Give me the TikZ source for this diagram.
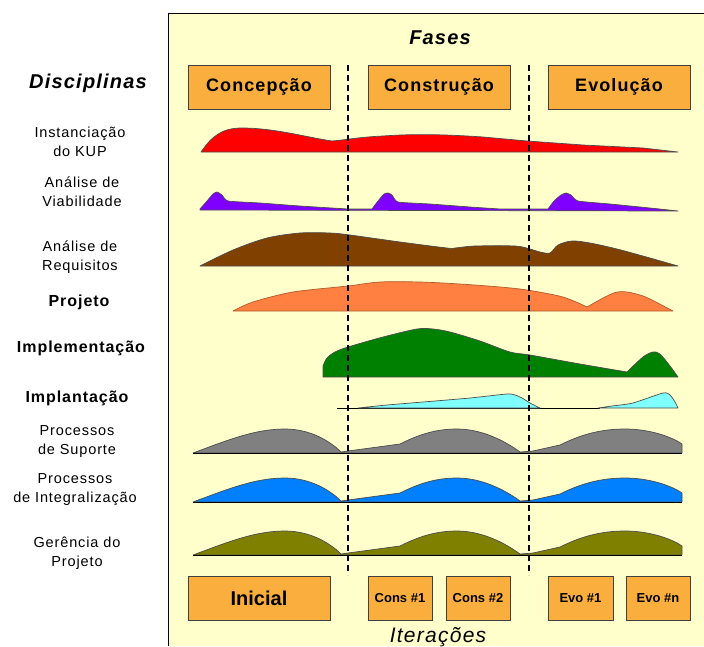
\documentclass[tikz,border=0pt]{standalone}
\usepackage{fontspec}
\setmainfont{Liberation Sans}[LetterSpace=6.0]
\newfontfamily\plainsans{Liberation Sans}
\definecolor{panel}{HTML}{FFFFCC}
\definecolor{boxorange}{HTML}{FAAE3D}
\definecolor{cred}{HTML}{FF0000}
\definecolor{cpurple}{HTML}{8000FF}
\definecolor{cbrown}{HTML}{804000}
\definecolor{corange}{HTML}{FF8040}
\definecolor{cgreen}{HTML}{008000}
\definecolor{ccyan}{HTML}{80FFFF}
\definecolor{cgray}{HTML}{808080}
\definecolor{cblue}{HTML}{0080FF}
\definecolor{colive}{HTML}{808000}
\tikzset{
  phasebox/.style={draw=black!75, line width=0.9pt, fill=boxorange, minimum width=142pt, minimum height=44pt, inner sep=0pt, font=\bfseries\fontsize{18}{20}\selectfont},
  iterbox/.style={draw=black!75, line width=0.9pt, fill=boxorange, minimum width=64pt, minimum height=44pt, inner sep=0pt, font=\plainsans\bfseries\fontsize{13}{15}\selectfont},
  disc/.style={align=center, inner sep=0pt, font=\fontsize{14.5}{19}\selectfont},
  discb/.style={align=center, inner sep=0pt, font=\bfseries\fontsize{16}{19}\selectfont},
  title/.style={inner sep=0pt, font=\bfseries\itshape\fontsize{20}{22}\selectfont},
  wave/.style={draw=black!70, line width=0.7pt, line join=round},
  phasesep/.style={line width=2.2pt, dash pattern=on 6pt off 4pt},
}
\begin{document}
\begin{tikzpicture}[x=1pt,y=-1pt]
\useasboundingbox (0,0) rectangle (704,646);
% panel
\fill[panel] (168,13) rectangle (704,646);
\draw[line width=0.8pt] (168,646) -- (168,13) -- (704,13);

% titles
\node[title] (fases) at (440,38) {Fases};
\node[title] (disciplinas) at (88,83) {Disciplinas};
\node[inner sep=0pt, font=\itshape\fontsize{21}{23}\selectfont] (iter) at (438,637) {Iterações};

% phase boxes
\node[phasebox] (concepcao) at (259,87) {Concepção};
\node[phasebox] (construcao) at (439,87) {Construção};
\node[phasebox] (evolucao) at (619,87) {Evolução};

% iteration boxes
\node[phasebox, font=\plainsans\bfseries\fontsize{20}{22}\selectfont] (inicial) at (259,598) {Inicial};
\node[iterbox] (cons1) at (400,598) {Cons \#1};
\node[iterbox] (cons2) at (478,598) {Cons \#2};
\node[iterbox, minimum width=65pt] (evo1) at (580.5,598) {Evo \#1};
\node[iterbox] (evon) at (658,598) {Evo \#n};

% discipline labels
\node[disc] (l1) at (80,141.5) {Instanciação\\do KUP};
\node[disc] (l2) at (82,192) {Análise de\\Viabilidade};
\node[disc] (l3) at (80,257.5) {Análise de\\Requisitos};
\node[discb] (l4) at (79,302) {Projeto};
\node[discb] (l5) at (81,348) {Implementação};
\node[discb] (l6) at (77,398) {Implantação};
\node[disc] (l7) at (77,442) {Processos\\de Suporte};
\node[disc] (l8) at (75,489.5) {Processos\\de Integralização};
\node[disc] (l9) at (77,553.5) {Gerência do\\Projeto};

% Instanciacao (red)
\filldraw[wave, fill=cred] (201,152) .. controls (212,136) and (222,128) .. (242,128)
  .. controls (275,128) and (310,138) .. (332,141)
  .. controls (345,140) and (360,137) .. (383,136)
  .. controls (410,134) and (440,134) .. (483,137)
  -- (527,141) -- (583,145) -- (643,148) -- (678,152) -- cycle;

% Viabilidade (purple)
\filldraw[wave, fill=cpurple] plot[smooth, tension=0.3] coordinates {(200,209) (207,201) (213,194) (217,192) (222,195) (228,201) (260,203) (300,206) (348,209)}
 -- (372,209) -- plot[smooth, tension=0.3] coordinates {(372,209) (378,201) (384,194) (388,193) (392,195) (398,202) (430,204) (470,207) (500,209)}
 -- (548,209) -- plot[smooth, tension=0.3] coordinates {(548,209) (554,201) (561,195) (566,193) (571,195) (578,201) (610,204) (650,208) (678,211)} -- (678,211) -- (200,210) -- cycle;

% Requisitos (brown)
\filldraw[wave, fill=cbrown] plot[smooth, tension=0.5] coordinates {(200,266) (233,250) (267,238) (300,233) (330,233) (350,235) (400,242) (447,248) (455,248) (475,246) (515,246) (530,249) (540,252) (550,253) (558,245) (572,241) (590,243) (617,249) (650,258) (678,266)} -- cycle;

% Projeto (orange)
\filldraw[draw=corange!70!black, line width=0.7pt, line join=round, fill=corange] plot[smooth, tension=0.5] coordinates {(233,311) (253,302) (293,292) (348,286) (380,282) (420,282) (460,284) (500,287) (527,290) (563,297) (587,307)}
 -- plot[smooth, tension=0.5] coordinates {(587,307) (605,297) (617,292) (627,292) (640,295) (650,299) (673,311)} -- cycle;

% Implementacao (green)
\filldraw[wave, fill=cgreen] (323,377) -- plot[smooth, tension=0.5] coordinates {(323,366) (327,358) (335,352) (348,347) (383,337) (417,329) (433,329) (450,332) (480,341) (510,352) (530,355) (580,364) (627,372)}
 -- plot[smooth, tension=0.5] coordinates {(627,372) (643,357) (653,352) (660,354) (670,366) (678,377)} -- cycle;

% Implantacao (cyan)
\draw[line width=0.8pt] (337,408) -- (600,408);
\filldraw[wave, fill=ccyan] plot[smooth, tension=0.4] coordinates {(358,408) (387,405) (435,401) (470,398) (507,394) (515,395) (522,398) (530,403) (540,408)} -- cycle;
\filldraw[wave, fill=ccyan] plot[smooth, tension=0.4] coordinates {(598,408) (612,406) (633,403) (663,393) (670,395) (675,402) (678,408)} -- cycle;

% Processos de Suporte / Integralizacao / Gerencia (three humps)
\foreach \base/\col in {453/cgray, 502/cblue, 555/colive}{
  \begin{scope}[shift={(0,\base)}]
  \filldraw[wave, fill=\col] (193,0) .. controls (228,-13) and (255,-24) .. (285,-24)
     .. controls (310,-24) and (330,-12) .. (341,-1)
   -- (348,-2) -- (400,-9)
     .. controls (418,-18) and (435,-24) .. (457,-24)
     .. controls (482,-24) and (505,-12) .. (520,-1)
   -- (533,-2) -- (560,-8)
     .. controls (580,-18) and (600,-24) .. (625,-24)
     .. controls (650,-24) and (672,-16) .. (682,-9)
   -- (682,0) -- cycle;
  \draw[line width=0.8pt] (193,0) -- (682,0);
  \end{scope}
}

% phase separators
\coordinate (s1t) at (348,65);
\coordinate (s1b) at (348,575);
\coordinate (s2t) at (529,65);
\coordinate (s2b) at (529,575);
\draw[phasesep] (s1t) -- (s1b);
\draw[phasesep] (s2t) -- (s2b);
\end{tikzpicture}
\end{document}
